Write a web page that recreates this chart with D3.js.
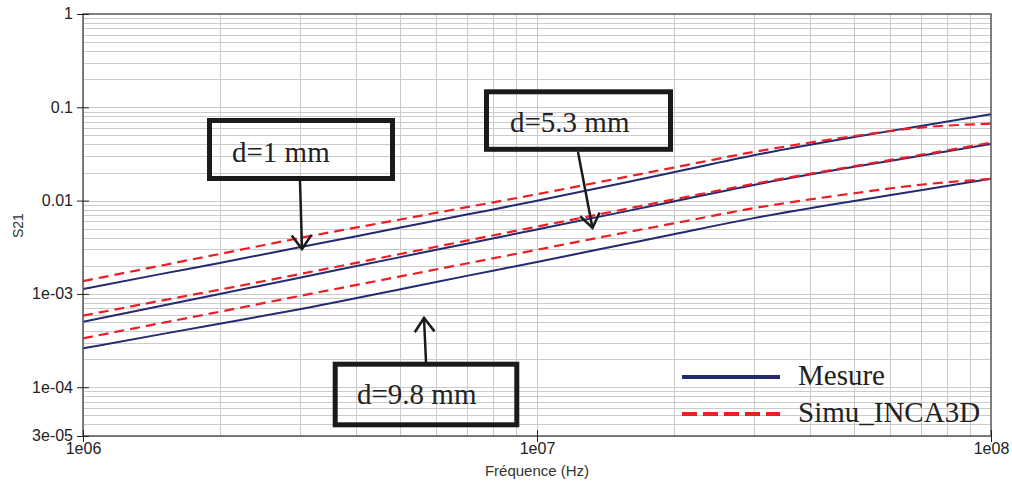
<!DOCTYPE html>
<html lang="fr">
<head>
  <meta charset="UTF-8">
  <title>S21 - Mesure vs Simu_INCA3D</title>
  <script src="https://d3js.org/d3.v7.min.js"></script>
  <style>
    body { margin: 0; background: #fff; }
    .tick text { font-family: "Liberation Sans", Arial, sans-serif; font-size: 16px; fill: #222; }
    .grid line { stroke: #cbcbcb; stroke-width: 1; shape-rendering: crispEdges; }
    .note { font-family: "Liberation Serif", "Times New Roman", serif; font-size: 29px; fill: #222; }
  </style>
</head>
<body>
<svg width="1012" height="483"></svg>
<script>
  // frequencies (Hz) where the curves were read
  var freqs = [1e6, 1.5e6, 2e6, 3e6, 5e6, 7e6, 1e7, 1.5e7, 2e7, 3e7, 5e7, 7e7, 1e8];

  // S21 values
  var mesure_1mm   = [1.13e-3, 1.65e-3, 2.15e-3, 3.16e-3, 5.14e-3, 7.08e-3, 9.95e-3, 1.50e-2, 2.01e-2, 3.06e-2, 4.81e-2, 6.31e-2, 8.41e-2];
  var simu_1mm     = [1.37e-3, 2.03e-3, 2.68e-3, 3.97e-3, 6.28e-3, 8.50e-3, 1.17e-2, 1.72e-2, 2.26e-2, 3.32e-2, 4.92e-2, 6.07e-2, 6.67e-2];
  var mesure_5_3mm = [5.04e-4, 7.52e-4, 1.00e-3, 1.49e-3, 2.48e-3, 3.45e-3, 4.91e-3, 7.34e-3, 9.78e-3, 1.47e-2, 2.30e-2, 3.02e-2, 4.04e-2];
  var simu_5_3mm   = [5.84e-4, 8.54e-4, 1.11e-3, 1.63e-3, 2.68e-3, 3.72e-3, 5.26e-3, 7.78e-3, 1.03e-2, 1.51e-2, 2.34e-2, 3.09e-2, 4.18e-2];
  var mesure_9_8mm = [2.61e-4, 3.73e-4, 4.80e-4, 6.84e-4, 1.12e-3, 1.56e-3, 2.20e-3, 3.28e-3, 4.36e-3, 6.49e-3, 9.93e-3, 1.29e-2, 1.72e-2];
  var simu_9_8mm   = [3.34e-4, 4.91e-4, 6.44e-4, 9.50e-4, 1.54e-3, 2.12e-3, 2.97e-3, 4.37e-3, 5.70e-3, 8.29e-3, 1.20e-2, 1.48e-2, 1.71e-2];

  // axis ticks
  var xTicks = [1e6, 1e7, 1e8];
  var xTickLabels = ["1e06", "1e07", "1e08"];
  var yTicks = [1, 0.1, 0.01, 1e-3, 1e-4, 3e-5];
  var yTickLabels = ["1", "0.1", "0.01", "1e-03", "1e-04", "3e-05"];

  var seriesNames = ["Mesure", "Simu_INCA3D"];
  var blue = "#232a70", red = "#ee1c24";

  var margin = { top: 14, right: 21, bottom: 47, left: 83 };
  var width = 1012 - margin.left - margin.right;
  var height = 483 - margin.top - margin.bottom;

  var x = d3.scaleLog().domain([1e6, 1e8]).range([0, width]);
  var y = d3.scaleLog().domain([3e-5, 1]).range([height, 0]);

  var svg = d3.select("svg").append("g")
    .attr("transform", "translate(" + margin.left + "," + margin.top + ")");

  // minor + major grid: 1..9 in each decade
  var xGrid = [], yGrid = [];
  [1e6, 1e7].forEach(function(d) { for (var k = 1; k <= 9; k++) xGrid.push(d * k); });
  [1e-5, 1e-4, 1e-3, 1e-2, 1e-1].forEach(function(d) {
    for (var k = 1; k <= 9; k++) { if (d * k >= 3e-5 && d * k < 1) yGrid.push(d * k); }
  });

  svg.append("g").attr("class", "grid").selectAll("line")
    .data(xGrid).enter().append("line")
    .attr("x1", function(d) { return Math.round(x(d)) + 0.5; })
    .attr("x2", function(d) { return Math.round(x(d)) + 0.5; })
    .attr("y1", 0).attr("y2", height);
  svg.append("g").attr("class", "grid").selectAll("line")
    .data(yGrid).enter().append("line")
    .attr("y1", function(d) { return Math.round(y(d)) + 0.5; })
    .attr("y2", function(d) { return Math.round(y(d)) + 0.5; })
    .attr("x1", 0).attr("x2", width);

  // curves (smoothed through the read points)
  var line = d3.line()
    .x(function(d, i) { return x(freqs[i]); })
    .y(function(d) { return y(d); })
    .curve(d3.curveMonotoneX);

  var curves = [
    { values: mesure_1mm, kind: 0 }, { values: mesure_5_3mm, kind: 0 }, { values: mesure_9_8mm, kind: 0 },
    { values: simu_1mm, kind: 1 }, { values: simu_5_3mm, kind: 1 }, { values: simu_9_8mm, kind: 1 }
  ];

  svg.append("clipPath").attr("id", "clip")
    .append("rect").attr("width", width).attr("height", height);

  svg.append("g").attr("clip-path", "url(#clip)")
    .selectAll("path").data(curves).enter().append("path")
    .attr("d", function(d) { return line(d.values); })
    .attr("fill", "none")
    .attr("stroke", function(d) { return d.kind ? red : blue; })
    .attr("stroke-width", function(d) { return d.kind ? 2.2 : 2; })
    .attr("stroke-dasharray", function(d) { return d.kind ? "10,6" : null; });

  // plot frame
  svg.append("rect")
    .attr("width", width).attr("height", height)
    .attr("fill", "none").attr("stroke", "#555").attr("stroke-width", 1.5);

  // axes: ticks cross the frame
  var xAxis = d3.axisBottom(x).tickValues(xTicks)
    .tickFormat(function(d, i) { return xTickLabels[i]; })
    .tickSize(6).tickPadding(1);
  var gx = svg.append("g").attr("transform", "translate(0," + height + ")").call(xAxis);
  gx.select(".domain").remove();
  gx.selectAll(".tick line").attr("y1", -6).attr("stroke", "#222");

  var yAxis = d3.axisLeft(y).tickValues(yTicks)
    .tickFormat(function(d, i) { return yTickLabels[i]; })
    .tickSize(6).tickPadding(4);
  var gy = svg.append("g").call(yAxis);
  gy.select(".domain").remove();
  gy.selectAll(".tick line").attr("x1", 6).attr("stroke", "#222");
  gy.selectAll(".tick text").attr("dy", "0.3em");

  // axis titles
  svg.append("text")
    .attr("x", width / 2).attr("y", height + 40)
    .attr("text-anchor", "middle")
    .style("font-family", "Liberation Sans, Arial, sans-serif")
    .style("font-size", "15px").style("fill", "#333")
    .text("Fréquence (Hz)");
  svg.append("text")
    .attr("transform", "rotate(-90)")
    .attr("x", -(y(1e-2) + 25)).attr("y", -margin.left + 23)
    .attr("text-anchor", "middle")
    .style("font-family", "Liberation Sans, Arial, sans-serif")
    .style("font-size", "14px").style("fill", "#333")
    .text("S21");

  // annotation boxes with arrows (page pixels)
  var notes = [
    { text: "d=1 mm",   box: [209.5, 120.5, 183, 58], tx: 232, ty: 162, from: [300, 181], to: [302, 249] },
    { text: "d=5.3 mm", box: [486.5, 91.8, 184, 57.5], tx: 510, ty: 132, from: [578, 152], to: [592.5, 228] },
    { text: "d=9.8 mm", box: [335.2, 364.2, 181.6, 60.6], tx: 357, ty: 404, from: [426, 362], to: [424, 318] }
  ];
  var ann = d3.select("svg").append("g");
  notes.forEach(function(n) {
    ann.append("rect")
      .attr("x", n.box[0]).attr("y", n.box[1]).attr("width", n.box[2]).attr("height", n.box[3])
      .attr("fill", "none").attr("stroke", "#1a1a1a").attr("stroke-width", 5);
    ann.append("text").attr("class", "note").attr("x", n.tx).attr("y", n.ty).text(n.text);
    ann.append("line")
      .attr("x1", n.from[0]).attr("y1", n.from[1]).attr("x2", n.to[0]).attr("y2", n.to[1])
      .attr("stroke", "#1a1a1a").attr("stroke-width", 2.5);
    // open arrow head
    var a = Math.atan2(n.to[1] - n.from[1], n.to[0] - n.from[0]);
    var len = 17, spread = 0.62;
    var p1 = [n.to[0] - len * Math.cos(a - spread), n.to[1] - len * Math.sin(a - spread)];
    var p2 = [n.to[0] - len * Math.cos(a + spread), n.to[1] - len * Math.sin(a + spread)];
    ann.append("path")
      .attr("d", "M" + p1 + "L" + n.to + "L" + p2)
      .attr("fill", "none").attr("stroke", "#1a1a1a").attr("stroke-width", 2.5);
  });

  // legend
  var legend = d3.select("svg").append("g").attr("transform", "translate(682,377)");
  seriesNames.forEach(function(name, i) {
    legend.append("line")
      .attr("x1", 0).attr("x2", 98).attr("y1", i * 37).attr("y2", i * 37)
      .attr("stroke", i ? red : blue).attr("stroke-width", 4)
      .attr("stroke-dasharray", i ? "15,6" : null);
    legend.append("text").attr("class", "note")
      .attr("x", 116).attr("y", i * 37 + 8).text(name);
  });
</script>
</body>
</html>
